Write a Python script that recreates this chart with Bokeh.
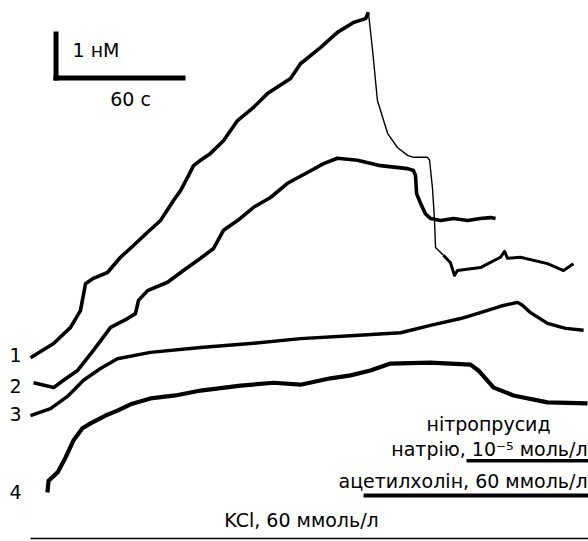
from bokeh.plotting import figure
from bokeh.models import Range1d, Label
from bokeh.embed import file_html
from bokeh.resources import INLINE

# ---- data: time (s) and Ca2+ signal (nM, traces offset) ----
t1 = [0, 10.5, 18.2, 22.7, 25.0, 28.6, 35.0, 40.9, 46.8, 53.2, 59.1, 65.0, 68.2, 71.4,
      74.1, 77.3, 81.8, 87.7, 94.1, 101.4, 107.7, 118.2, 122.7, 131.8, 139.5, 146.8,
      152.3, 153.6,
      155.5, 157.7, 162.3, 166.8, 171.4, 174.1, 180.5, 181.4, 182.7, 183.6, 184.1, 187.7,
      190.9, 192.7, 194.1, 204.5, 213.6, 215.5, 216.8, 222.7, 235.0, 242.3, 246.8]
c1 = [3.73, 4.02, 4.35, 4.69, 5.24, 5.35, 5.47, 5.78, 6.02, 6.29, 6.53, 6.94, 7.14, 7.41,
      7.65, 7.76, 7.90, 8.16, 8.57, 8.84, 9.12, 9.43, 9.73, 10.06, 10.37, 10.57,
      10.65, 10.78,
      10.00, 8.98, 8.31, 8.02, 7.86, 7.82, 7.82, 7.76, 7.20, 6.59, 5.98, 5.82,
      5.67, 5.41, 5.51, 5.57, 5.78, 5.90, 5.76, 5.78, 5.65, 5.51, 5.65]

t2 = [1.4, 10.5, 15.0, 21.4, 28.6, 36.4, 44.1, 47.7, 49.1, 53.2, 62.3, 69.5, 77.3, 83.2,
      86.4, 87.7, 94.1, 101.4, 109.1, 116.8, 125.9, 133.2, 139.5, 148.6, 159.1, 171.4,
      174.1, 175.0, 175.5, 177.3, 179.5, 181.8, 186.4, 192.3, 198.6, 204.5, 209.1, 211.4]
c2 = [3.22, 3.12, 3.27, 3.47, 3.88, 4.35, 4.53, 4.63, 4.90, 5.10, 5.27, 5.51, 5.76, 5.96,
      6.22, 6.33, 6.53, 6.80, 7.00, 7.29, 7.51, 7.69, 7.80, 7.76, 7.65, 7.59,
      7.55, 7.45, 7.08, 6.88, 6.67, 6.57, 6.53, 6.57, 6.53, 6.57, 6.59, 6.57]

t3 = [0, 9.1, 16.8, 24.1, 31.8, 39.5, 54.5, 77.3, 100.0, 122.7, 145.5, 168.2, 181.8,
      195.5, 204.5, 213.6, 221.4, 223.6, 227.3, 235.0, 243.2, 251.4]
c3 = [2.55, 2.69, 2.94, 3.27, 3.51, 3.71, 3.84, 3.94, 4.02, 4.12, 4.18, 4.24, 4.39,
      4.53, 4.65, 4.78, 4.86, 4.80, 4.65, 4.43, 4.33, 4.29]

t4 = [7.7, 8.2, 12.3, 15.9, 19.5, 23.6, 27.3, 34.1, 39.5, 45.5, 54.5, 65.9, 77.3, 95.5,
      110.5, 122.7, 136.4, 145.5, 154.5, 163.6, 181.8, 200.0, 203.6, 206.8, 210.5, 219.5,
      235.0, 253.2]
c4 = [0.98, 1.22, 1.39, 1.69, 2.04, 2.29, 2.39, 2.55, 2.65, 2.78, 2.90, 2.96, 3.06, 3.16,
      3.22, 3.18, 3.31, 3.37, 3.47, 3.61, 3.63, 3.59, 3.47, 3.31, 3.12, 2.96,
      2.82, 2.80]

trace_labels = ["1", "2", "3", "4"]
label_y = [3.78, 3.16, 2.59, 0.98]

# application periods (s)
kcl_period = [0, 260]
ach_period = [151.4, 260]
snp_period = [198.2, 260]

scale_t = 60   # s
scale_c = 1    # nM

# ---- figure ----
p = figure(width=588, height=541, x_range=Range1d(-13.64, 253.64),
           y_range=Range1d(-0.0204, 11.0204),
           output_backend="svg", toolbar_location=None, min_border=0)
p.axis.visible = False
p.grid.visible = False
p.outline_line_color = None
p.background_fill_color = "white"
p.border_fill_color = "white"

k = "black"
# trace 1: thick rise, thin fast drop, noisy tail
p.line(t1[:28], c1[:28], line_color=k, line_width=3.6, line_join="round")
p.line(t1[27:40], c1[27:40], line_color=k, line_width=1.4, line_join="round")
p.line(t1[39:], c1[39:], line_color=k, line_width=3.0, line_join="round")
p.line(t2, c2, line_color=k, line_width=3.6, line_join="round")
p.line(t3, c3, line_color=k, line_width=3.4, line_join="round")
p.line(t4, c4, line_color=k, line_width=4.2, line_join="round")

# scale bar
p.line([11.6, 11.6], [9.388, 9.388 + scale_c], line_color=k, line_width=5)
p.line([10.45, 10.45 + scale_t], [9.439, 9.439], line_color=k, line_width=5)

FONT = "DejaVu Sans"
FS = "19px"

def lab(x, y, text, align="left", size=FS):
    p.add_layout(Label(x=x, y=y, text=text, text_font=FONT, text_font_size=size,
                       text_align=align, text_baseline="middle", text_color=k))

lab(19.1, 10.02, f"{scale_c} нМ")
lab(45.5, 9.01, f"{scale_t} с", align="center")

for s, yy in zip(trace_labels, label_y):
    lab(-6.8, yy, s, align="center")

# application bars
p.line(snp_period, [1.63, 1.63], line_color=k, line_width=3.5)
p.line(ach_period, [0.92, 0.92], line_color=k, line_width=4)
p.line(kcl_period, [0.041, 0.041], line_color=k, line_width=1.5)

lab(208.2, 2.37, "нітропрусид", align="center")
lab(253.2, 1.86, "натрію, 10⁻⁵ моль/л", align="right")
lab(253.2, 1.22, "ацетилхолін, 60 ммоль/л", align="right")
lab(123.2, 0.41, "KCl, 60 ммоль/л", align="center")

open("out.html", "w").write(file_html(p, INLINE))
